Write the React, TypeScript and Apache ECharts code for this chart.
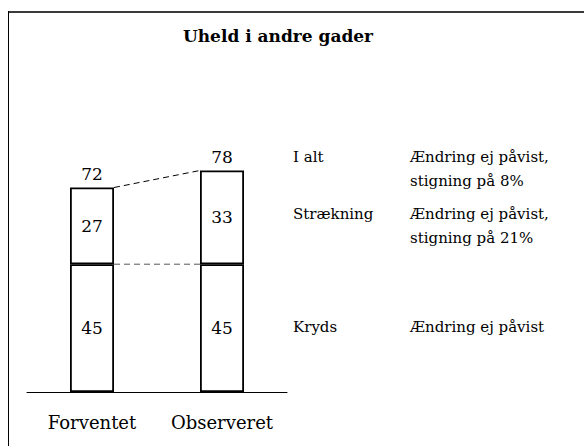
import React, { useEffect, useRef } from "react";
import * as echarts from "echarts";

const categories = ["Forventet", "Observeret"];
const kryds = [45, 45];
const straekning = [27, 33];
const totals = kryds.map((v, i) => v + straekning[i]);
const rowLabels = ["I alt", "Strækning", "Kryds"];
const rowNotes = [
  "Ændring ej påvist,\nstigning på 8%",
  "Ændring ej påvist,\nstigning på 21%",
  "Ændring ej påvist",
];
const title = "Uheld i andre gader";

const FONT = "DejaVu Serif";

export default function App() {
  const ref = useRef<HTMLDivElement>(null);
  useEffect(() => {
    if (!ref.current) return;
    const chart = echarts.init(ref.current, null, { renderer: "svg" });
    const barW = 44;
    const rowY = [157, 214, 327];
    const graphics: any[] = [
      { type: "line", shape: { x1: 8, y1: 12, x2: 584, y2: 12 }, style: { stroke: "#3a3a3a", lineWidth: 2 } },
      { type: "line", shape: { x1: 8.5, y1: 11, x2: 8.5, y2: 446 }, style: { stroke: "#000", lineWidth: 1 } },
    ];
    rowLabels.forEach((t, i) => {
      graphics.push({
        type: "text",
        x: 293,
        y: rowY[i],
        style: { text: t, fontFamily: FONT, fontSize: 15, fill: "#000", verticalAlign: "middle", align: "left" },
      });
      graphics.push({
        type: "text",
        x: 410,
        y: rowY[i] - 12,
        style: { text: rowNotes[i], fontFamily: FONT, fontSize: 15, lineHeight: 24, fill: "#000", verticalAlign: "top", align: "left" },
      });
    });
    chart.setOption({
      animation: false,
      backgroundColor: "#fff",
      title: {
        text: title,
        left: 273,
        textAlign: "center",
        top: 22,
        textStyle: { fontFamily: FONT, fontWeight: "bold", fontSize: 17, color: "#000" },
      },
      grid: { left: 27, width: 260, top: 108, bottom: 54 },
      xAxis: {
        type: "category",
        data: categories,
        axisTick: { show: false },
        axisLine: { lineStyle: { color: "#000", width: 1 } },
        axisLabel: { interval: 0, color: "#000", fontFamily: FONT, fontSize: 18, margin: 21 },
      },
      yAxis: { type: "value", min: 0, max: 100, show: false, splitLine: { show: false } },
      series: [
        {
          type: "bar",
          name: "Kryds",
          stack: "a",
          barWidth: barW,
          data: kryds,
          itemStyle: { color: "#fff", borderColor: "#000", borderWidth: 1.8 },
          label: { show: true, position: "inside", color: "#000", fontFamily: FONT, fontSize: 17 },
        },
        {
          type: "bar",
          name: "Strækning",
          stack: "a",
          barWidth: barW,
          data: straekning,
          itemStyle: { color: "#fff", borderColor: "#000", borderWidth: 1.8 },
          label: { show: true, position: "inside", color: "#000", fontFamily: FONT, fontSize: 17 },
        },
        {
          type: "scatter",
          data: totals,
          symbolSize: 0,
          itemStyle: { opacity: 1 },
          label: { show: true, position: "top", distance: 5, color: "#000", fontFamily: FONT, fontSize: 17 },
          z: 5,
        },
        {
          type: "custom",
          data: [[0, 0]],
          z: 1,
          renderItem: (params: any, api: any) => {
            if (params.dataIndex !== 0) return null;
            const a = api.coord([0, totals[0]]);
            const b = api.coord([1, totals[1]]);
            const c = api.coord([0, kryds[0]]);
            const d = api.coord([1, kryds[1]]);
            const h = barW / 2;
            return {
              type: "group",
              children: [
                {
                  type: "line",
                  shape: { x1: a[0] + h, y1: a[1], x2: b[0] - h, y2: b[1] },
                  style: { stroke: "#000", lineWidth: 1, lineDash: [6, 4] },
                },
                {
                  type: "line",
                  shape: { x1: c[0] + h, y1: c[1], x2: d[0] - h, y2: d[1] },
                  style: { stroke: "#555", lineWidth: 1, lineDash: [6, 4] },
                },
              ],
            };
          },
        },
      ],
      graphic: graphics,
    });
    return () => chart.dispose();
  }, []);
  return <div ref={ref} style={{ position: "absolute", left: 0, top: 0, width: 584, height: 446 }} />;
}
